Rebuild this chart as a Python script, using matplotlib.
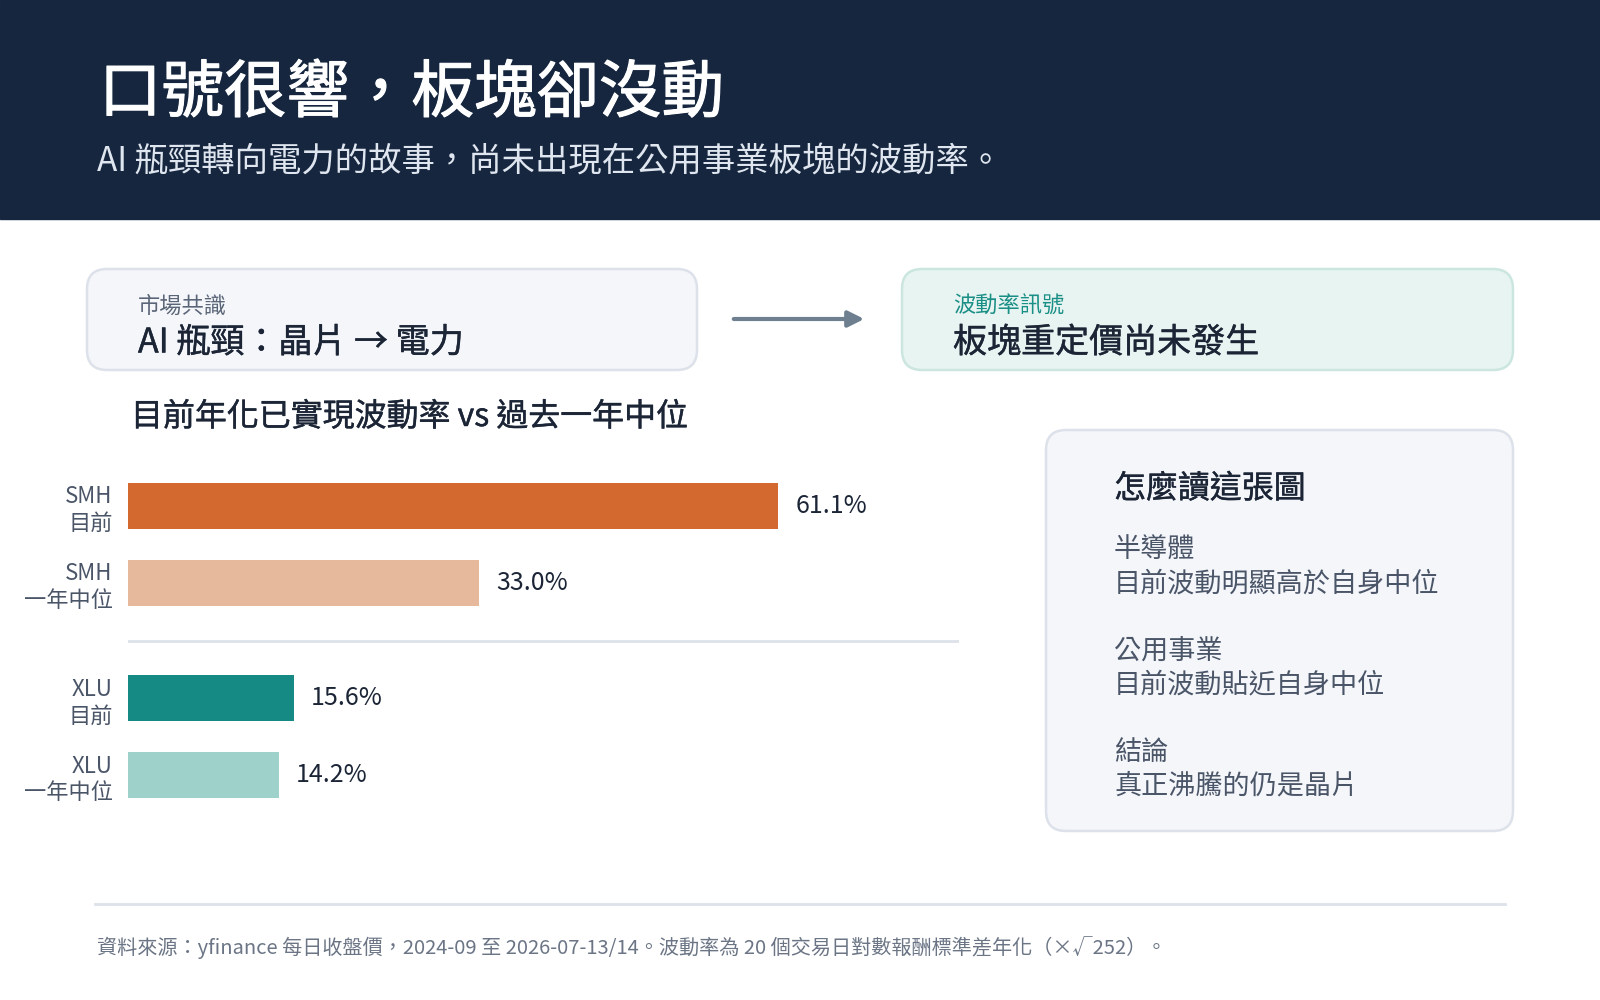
import matplotlib
matplotlib.use("Agg")
import matplotlib.pyplot as plt
import matplotlib.patheffects as pe
from matplotlib.patches import FancyBboxPatch, Rectangle

plt.rcParams['font.family'] = ['Noto Sans CJK TC', 'DejaVu Sans']

# data
bar_labels = ["SMH\n目前", "SMH\n一年中位", "XLU\n目前", "XLU\n一年中位"]
bar_values = [61.1, 33.0, 15.6, 14.2]
bar_pos = [0, 1, 2.5, 3.5]
bar_colors = ["#d4692f", "#e6b89c", "#158a84", "#9fd1cb"]

title = "口號很響，板塊卻沒動"
subtitle = "AI 瓶頸轉向電力的故事，尚未出現在公用事業板塊的波動率。"
left_tag, left_text = "市場共識", "AI 瓶頸：晶片 → 電力"
right_tag, right_text = "波動率訊號", "板塊重定價尚未發生"
chart_title = "目前年化已實現波動率 vs 過去一年中位"
panel_title = "怎麼讀這張圖"
panel_items = [("半導體", "目前波動明顯高於自身中位"),
               ("公用事業", "目前波動貼近自身中位"),
               ("結論", "真正沸騰的仍是晶片")]
footer = "資料來源：yfinance 每日收盤價，2024-09 至 2026-07-13/14。波動率為 20 個交易日對數報酬標準差年化（×√252）。"

NAVY = "#16263f"
DARK = "#1b2536"
GRAY = "#4a5568"


def heavy(color, w=0.3):
    # fake a medium weight with a thin outline
    return [pe.withStroke(linewidth=w, foreground=color)]


fig = plt.figure(figsize=(16, 10), dpi=100)
bg = fig.add_axes([0, 0, 1, 1])
bg.set_xlim(0, 1600)
bg.set_ylim(1000, 0)
bg.axis("off")

# header band
bg.add_patch(Rectangle((0, 0), 1600, 219, color=NAVY, zorder=0))
bg.text(99, 94, title, color="white", fontsize=45, va="center",
        path_effects=heavy("white", 0.8))
bg.text(97, 161, subtitle, color="#dfe6ef", fontsize=24, va="center")


def card(x0, y0, x1, y1, face, edge):
    bg.add_patch(FancyBboxPatch((x0, y0), x1 - x0, y1 - y0,
                                boxstyle="round,pad=0,rounding_size=20",
                                facecolor=face, edgecolor=edge, lw=1.8, zorder=1))


card(87, 269, 697, 370, "#f4f6fa", "#dde2ea")
bg.text(138, 306, left_tag, color="#5a6577", fontsize=16, va="center", zorder=2)
bg.text(138, 343, left_text, color=DARK, fontsize=24.5, va="center", zorder=2,
        path_effects=heavy(DARK))

bg.annotate("", xy=(867, 319), xytext=(731, 319),
            arrowprops=dict(arrowstyle="-|>", color="#6e7f90", lw=3, mutation_scale=24))

card(902, 269, 1513, 370, "#e8f4f1", "#cbe6df")
bg.text(953, 306, right_tag, color="#1a8f86", fontsize=16, va="center", zorder=2)
bg.text(953, 343, right_text, color=DARK, fontsize=24.5, va="center", zorder=2,
        path_effects=heavy(DARK))

bg.text(131, 417, chart_title, color=DARK, fontsize=23, va="center",
        path_effects=heavy(DARK))

# reading panel
card(1046, 430, 1513, 831, "#f4f6fa", "#dde2ea")
bg.text(1114, 489, panel_title, color=DARK, fontsize=23, va="center", zorder=2,
        path_effects=heavy(DARK))
for i, (head, body) in enumerate(panel_items):
    y = 550 + i * 101
    bg.text(1114, y, head, color=GRAY, fontsize=19.5, va="center", zorder=2)
    bg.text(1114, y + 34, body, color=GRAY, fontsize=19.5, va="center", zorder=2)

# footer
bg.plot([95, 1505], [904, 904], color="#dde2ea", lw=2)
bg.text(97, 948, footer, color="#6b7585", fontsize=14.5, va="center")

# bar chart
ax = fig.add_axes([128 / 1600, 1 - 816 / 1000, 831 / 1600, 347 / 1000])
ax.patch.set_alpha(0)
ax.barh(bar_pos, bar_values, height=0.6, color=bar_colors)
ax.set_xlim(0, 78.1)
ax.set_ylim(4.03, -0.48)
ax.axhline(1.75, color="#dde2ea", lw=2)
for p, v in zip(bar_pos, bar_values):
    ax.text(v + 1.6, p, f"{v:.1f}%", color=DARK, fontsize=18, va="center")
ax.set_yticks(bar_pos)
ax.set_yticklabels(bar_labels, fontsize=16, color=GRAY, ha="right")
ax.tick_params(axis="y", length=0, pad=11)
ax.set_xticks([])
for s in ax.spines.values():
    s.set_visible(False)

fig.savefig("out.png", dpi=100)
